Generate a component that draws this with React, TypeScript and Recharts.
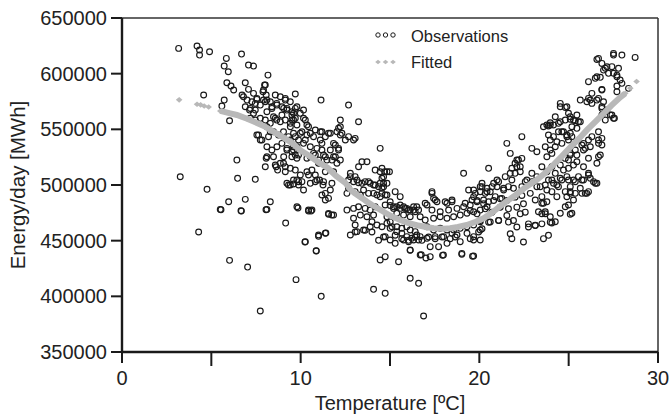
import { Legend, ReferenceLine, Scatter, ScatterChart, XAxis, YAxis } from 'recharts';

document.body.style.margin = '0';

const FONT = '"Liberation Sans", Arial, Helvetica, sans-serif';
const INK = '#1a1a1a';
const FIT = '#b8b8b8';

const xTicks = [0, 5, 10, 15, 20, 25, 30];
const yTicks = [350000, 400000, 450000, 500000, 550000, 600000, 650000];

// [temperature, energy]
const obsCold: [number, number][] = [
  [3.17, 622700], [3.26, 507400], [4.2, 624800], [4.34, 621200], [4.34, 616700], [4.9, 619700],
  [4.57, 580800], [4.76, 496100], [4.29, 457800], [5.54, 477800], [6.02, 432300], [6.68, 476600],
  [7.03, 426300], [7.74, 386800], [8.06, 477800], [5.84, 613700], [5.72, 606800], [5.95, 601700],
  [6.69, 617600], [7.08, 607700], [7.36, 606800], [5.87, 591800], [6.1, 588900], [6.25, 585300],
  [6.9, 591800], [7.08, 585900], [8.17, 598700], [8.02, 589800], [7.92, 585300], [5.72, 576300],
  [5.59, 570900], [6.02, 557700], [6.8, 579300], [7.0, 576300], [7.36, 582300], [7.55, 577800],
  [7.46, 573300], [6.9, 570300], [7.14, 567300], [7.36, 564400], [7.92, 576300], [8.07, 580800],
  [6.43, 522400], [6.47, 506000], [7.46, 505100], [5.97, 485000], [6.9, 487100], [8.3, 485000],
  [8.71, 513400], [8.02, 516400], [8.11, 525400], [7.55, 544900], [7.74, 540400], [8.11, 552300],
  [8.3, 547800], [8.48, 561300], [8.66, 558300], [8.95, 562800], [8.11, 576300], [8.39, 570300],
  [8.66, 573300], [8.86, 579300], [8.86, 519500], [8.58, 517900], [7.98, 589800], [7.89, 583800],
  [6.72, 580800], [7.27, 574800], [7.55, 576900], [7.18, 568800], [7.46, 567300], [7.74, 571800],
  [8.02, 574800], [8.3, 574800], [8.58, 580800], [8.11, 565800], [8.39, 568800], [8.67, 571800],
  [8.95, 570300], [7.18, 559900], [7.46, 558300], [7.74, 559900], [8.02, 558300], [8.3, 555400],
  [8.58, 559900], [8.86, 556800], [7.64, 544900], [7.83, 540400], [8.2, 543400], [8.48, 547800],
  [8.76, 544900], [8.11, 534400], [8.39, 531400], [8.67, 534400], [8.95, 537400], [8.07, 524000],
  [8.48, 525400], [8.63, 516400], [5.5, 478100], [6.66, 476900], [8.11, 478100],
];

const obsMild: [number, number][] = [
  [9.16, 465800], [9.74, 415000], [9.85, 479300], [10.24, 448800], [10.44, 476600], [10.58, 476600],
  [10.87, 440700], [11.0, 453900], [11.15, 400000], [11.41, 456900], [11.56, 473700], [11.74, 473000],
  [9.7, 581700], [11.14, 576300], [9.14, 576300], [9.05, 568800], [9.23, 567300], [9.51, 562800],
  [9.79, 570300], [9.98, 564400], [9.6, 558300], [9.42, 552300], [10.16, 559900], [10.35, 553900],
  [10.07, 547800], [9.88, 540400], [10.26, 540400], [10.54, 546400], [10.82, 549400], [11.1, 547800],
  [9.42, 540400], [9.6, 534400], [9.23, 531400], [9.05, 525400], [9.51, 525400], [9.14, 516400],
  [9.42, 515000], [9.7, 513400], [9.23, 501500], [9.42, 500000], [9.79, 504500], [10.07, 503000],
  [10.44, 509000], [10.63, 513400], [10.82, 503000], [11.06, 504500], [11.25, 500000], [11.38, 492500],
  [11.56, 488000], [11.66, 495500], [11.75, 522400], [11.66, 531400], [11.84, 537400], [11.19, 531400],
  [11.38, 525400], [11.0, 522400], [10.82, 526900], [10.54, 525400], [11.1, 540400], [11.38, 543400],
  [11.66, 546400], [9.14, 577800], [9.42, 574800], [9.7, 568800], [9.23, 568800], [9.51, 565800],
  [9.14, 558300], [9.42, 555400], [9.7, 559900], [9.79, 553900], [9.04, 547800], [9.32, 543400],
  [9.6, 546400], [9.23, 532900], [9.51, 529900], [9.79, 534400], [9.04, 519500], [9.14, 511900],
  [9.79, 524000], [9.7, 526900], [9.32, 500000], [9.6, 500900], [9.88, 503000], [9.79, 480500],
  [9.6, 564400], [9.51, 558300], [10.16, 567300], [10.26, 558300], [10.44, 552300], [9.98, 546400],
  [9.7, 543400], [10.35, 544900], [10.72, 543400], [11.19, 547800], [11.56, 546400], [12.12, 550900],
  [12.22, 558300], [12.22, 544900], [11.94, 535900], [12.12, 532900], [11.19, 537400], [10.91, 532900],
  [10.54, 534400], [10.16, 537400], [9.6, 531400], [9.88, 526900], [10.35, 524000], [10.72, 528400],
  [11.28, 526900], [11.84, 525400], [11.47, 522400], [11.0, 519500], [12.03, 519500], [11.84, 511900],
  [11.38, 511900], [10.82, 509000], [10.35, 511900], [9.98, 509000], [9.6, 504500], [9.88, 500000],
  [10.54, 501500], [10.91, 504500], [11.28, 503000], [11.75, 501500], [11.19, 491000], [11.38, 486500],
  [10.16, 495500], [10.44, 477500], [10.63, 477500], [11.56, 474500], [11.84, 473000], [11.0, 455100],
  [11.38, 456600], [10.26, 449100], [10.87, 441000], [12.68, 571800], [12.22, 552300], [12.03, 547800],
  [12.31, 546400], [12.68, 543400], [12.96, 540400], [12.5, 540400], [12.12, 531400], [11.94, 525400],
  [12.22, 522400], [12.78, 510500], [12.68, 504500], [12.96, 503000], [12.78, 507500], [12.59, 492500],
  [12.68, 497000], [12.59, 477500], [12.96, 479000], [12.96, 470100], [12.78, 455100],
];

const obsCool: [number, number][] = [
  [13.24, 556800], [13.05, 541900], [14.45, 532900], [13.43, 520900], [13.71, 520900], [13.24, 516400],
  [13.05, 507500], [13.24, 502100], [14.17, 513400], [14.45, 511900], [14.7, 511900], [14.97, 511900],
  [13.61, 503000], [13.89, 501500], [14.17, 500000], [14.45, 501500], [14.64, 498500], [14.55, 492500],
  [19.12, 510500], [19.4, 495500], [19.77, 492500], [17.35, 492500], [17.53, 486500], [18.09, 485000],
  [18.47, 486500], [16.97, 483600], [19.21, 483600], [19.59, 486500], [19.87, 485000], [13.15, 504500],
  [13.43, 501500], [13.8, 503000], [14.08, 500000], [14.36, 498500], [14.64, 501500], [14.55, 506000],
  [13.05, 494000], [13.52, 495500], [13.8, 492500], [13.34, 491000], [14.08, 492500], [14.45, 489500],
  [14.73, 491000], [13.24, 480500], [13.61, 479000], [13.89, 477500], [14.17, 480500], [14.08, 473000],
  [13.71, 471500], [13.34, 473000], [13.05, 464100], [13.15, 458100], [13.52, 459600], [13.89, 462500],
  [13.99, 467000], [14.27, 464100], [14.55, 462500], [14.83, 471500], [15.01, 467000], [15.2, 480500],
  [15.57, 479000], [15.85, 479000], [16.13, 477500], [16.41, 476000], [15.01, 461100], [15.38, 462500],
  [15.66, 461100], [15.94, 462500], [16.13, 459600], [16.41, 458100], [14.73, 453600], [15.01, 450600],
  [15.29, 447600], [15.76, 450600], [16.04, 449100], [16.32, 450600], [14.45, 432600], [14.73, 435600],
  [15.48, 431100], [14.08, 406300], [14.73, 402700], [16.13, 416200], [16.6, 411700], [16.88, 382300],
  [16.13, 441300], [16.75, 437400], [17.01, 434400], [17.94, 436800], [19.02, 437700], [19.62, 436000],
  [13.05, 457800], [13.61, 459300], [13.99, 457800], [14.36, 450300], [14.64, 453300], [15.29, 454900],
  [15.66, 451800], [16.04, 450300], [16.41, 453300], [16.79, 450300], [17.16, 453300], [17.53, 451800],
  [17.91, 453300], [18.37, 451800], [18.65, 453300], [19.49, 451800], [19.96, 457800], [15.01, 481600],
  [15.38, 480500], [15.76, 480500], [16.04, 477500], [16.32, 480500], [16.6, 477500], [14.83, 465600],
  [15.11, 462500], [15.38, 458100], [15.66, 456600], [15.94, 453600], [16.22, 452100], [16.5, 455100],
  [16.6, 450600], [17.35, 494000], [17.44, 488000], [17.63, 485000], [18.19, 483600], [18.47, 485000],
  [17.07, 482000], [17.35, 477500], [17.81, 476000], [18.28, 477500], [18.75, 479000], [19.12, 480500],
  [19.49, 482000], [19.68, 489500], [16.69, 471500], [16.97, 468500], [17.44, 470100], [17.81, 471500],
  [18.19, 470100], [18.56, 471500], [18.93, 473000], [19.31, 474600], [19.68, 476000], [17.07, 462500],
  [17.44, 459600], [17.81, 461100], [18.19, 459600], [18.56, 459600], [18.93, 461100], [19.31, 462500],
  [19.68, 464100], [16.69, 453600], [17.07, 452100], [17.53, 453600], [18.0, 453600], [18.47, 456600],
  [18.75, 455100], [19.31, 456600], [19.68, 453600], [17.25, 444600], [17.72, 444600], [18.19, 447600],
  [18.93, 449100], [19.68, 450600], [16.13, 441600], [16.69, 437100], [17.25, 435600], [17.99, 437100],
  [19.02, 438600], [19.68, 436200], [14.55, 515000], [14.83, 511900], [14.64, 507500], [14.83, 501500],
  [14.55, 497000], [14.27, 491000], [14.83, 491000], [15.01, 485000], [14.73, 482000], [15.2, 479000],
  [15.57, 482000], [15.94, 479000], [16.32, 477500], [15.38, 474600], [15.76, 473000], [16.13, 471500],
  [15.57, 489500], [15.29, 494000], [16.5, 480500], [19.68, 495500], [19.87, 486100], [19.49, 477100],
  [19.87, 474100],
];

const obsWarm: [number, number][] = [
  [20.52, 515000], [21.54, 537400], [21.73, 528400], [22.0, 519500], [22.19, 522400], [22.1, 516400],
  [21.73, 510500], [21.45, 507500], [21.82, 504500], [22.38, 543400], [22.94, 532900], [23.22, 529900],
  [23.59, 552300], [23.78, 553900], [23.97, 553900], [23.87, 544900], [23.69, 534400], [23.97, 531400],
  [23.87, 504500], [23.69, 500000], [22.38, 498500], [22.57, 503000], [22.94, 503000], [23.22, 498500],
  [22.85, 492500], [23.13, 486500], [23.5, 489500], [23.5, 483600], [23.78, 485000], [20.15, 498500],
  [20.43, 494000], [20.71, 498500], [21.08, 503000], [21.36, 497000], [21.63, 498500], [20.89, 489500],
  [21.26, 488000], [20.24, 486500], [20.52, 485000], [20.61, 466700], [21.08, 468200], [21.63, 466700],
  [21.73, 456200], [21.82, 451800], [22.1, 462300], [22.47, 448800], [22.75, 462300], [23.13, 463800],
  [23.5, 474200], [23.69, 474200], [23.59, 451800], [23.87, 454800], [20.15, 460700], [20.05, 498500],
  [20.33, 492500], [20.61, 494000], [20.99, 498500], [21.36, 495500], [21.91, 497000], [20.24, 483100],
  [20.8, 486100], [21.17, 487600], [21.54, 486100], [22.0, 489100], [22.38, 490600], [20.33, 478600],
  [20.71, 475600], [21.17, 480100], [21.63, 478600], [22.1, 480100], [22.47, 483100], [20.05, 468100],
  [20.52, 466600], [21.08, 468100], [21.54, 472600], [21.91, 468100], [22.29, 474100], [22.75, 465100],
  [23.13, 463600], [23.5, 465100], [23.97, 466600], [22.57, 475600], [22.1, 522400], [22.38, 523900],
  [22.29, 516400], [21.82, 515000], [22.0, 510500], [22.29, 511900], [22.66, 504500], [22.94, 510500],
  [23.22, 507500], [23.5, 516400], [23.78, 511900], [23.41, 498500], [23.78, 495500], [23.78, 525400],
  [23.97, 540400], [23.87, 553000], [23.97, 555900], [23.59, 483500], [23.31, 476000], [23.69, 476000],
  [23.97, 471500], [20.05, 477500], [20.43, 480500], [20.05, 467000], [20.05, 459600], [20.05, 450600],
  [20.8, 501500], [20.99, 504500], [20.15, 501500], [20.05, 494000], [20.43, 497000],
];

const obsHot: [number, number][] = [
  [24.06, 516400], [24.25, 510500], [24.34, 500000], [24.06, 494000], [24.34, 489500], [24.06, 504500],
  [24.15, 501500], [24.43, 498500], [24.25, 561300], [24.43, 555400], [24.53, 570300], [24.81, 569700],
  [24.99, 564400], [24.15, 543400], [24.34, 538800], [24.62, 537400], [24.25, 534400], [24.81, 558300],
  [25.09, 559000], [25.37, 557700], [25.55, 556800], [25.18, 552300], [25.46, 550900], [24.62, 547800],
  [24.9, 544900], [25.18, 543400], [24.99, 540400], [25.65, 576300], [26.02, 574800], [26.21, 576300],
  [26.3, 582300], [26.67, 577800], [26.86, 585900], [26.11, 592800], [26.49, 595800], [26.77, 596700],
  [26.58, 612800], [26.86, 609200], [27.05, 604800], [27.23, 600300], [27.42, 606300], [27.51, 616700],
  [27.98, 616700], [28.72, 614600], [27.79, 604800], [27.7, 598700], [27.88, 594300], [27.7, 588900],
  [28.35, 586800], [26.86, 570300], [27.14, 567300], [26.86, 562800], [27.42, 562800], [27.56, 559900],
  [27.05, 558300], [26.67, 547800], [26.86, 541900], [26.67, 537400], [26.77, 526900], [26.11, 540400],
  [25.83, 537400], [25.93, 532900], [26.21, 534400], [25.74, 535900], [25.37, 531400], [25.09, 526900],
  [24.81, 523900], [24.99, 522400], [25.46, 520900], [25.83, 516400], [26.11, 510500], [26.21, 506000],
  [25.74, 504500], [25.37, 503000], [24.99, 504500], [24.62, 504500], [24.81, 494000], [25.09, 494000],
  [25.37, 492500], [25.74, 492500], [26.11, 494000], [26.49, 501500], [25.09, 473700], [24.06, 465900],
  [24.06, 528400], [24.43, 547800], [24.71, 547800], [24.9, 543400], [25.09, 546400], [24.15, 553900],
  [24.53, 556800], [25.09, 561300], [25.27, 558300], [25.46, 562800], [25.65, 556800], [24.53, 573300],
  [24.9, 570300], [26.11, 577800], [26.3, 573300], [26.58, 576300], [26.95, 574800], [26.86, 568800],
  [27.05, 565800], [27.51, 559900], [27.33, 562800], [26.58, 597200], [26.95, 603200], [27.14, 606200],
  [27.51, 600300], [27.7, 597200], [27.98, 591300], [27.7, 583800], [26.67, 613700], [27.51, 618200],
  [26.86, 585300], [25.09, 528400], [25.46, 526900], [25.83, 531400], [26.11, 524000], [26.67, 525400],
  [26.58, 519500], [26.86, 535900], [26.67, 540400], [26.3, 543400], [24.53, 517900], [24.71, 513400],
  [24.99, 515000], [25.27, 517900], [24.9, 507500], [25.27, 504500], [25.55, 507500], [25.83, 504500],
  [26.11, 509000], [26.39, 503000], [26.58, 501500], [24.53, 506000], [25.09, 498500], [25.65, 497000],
  [26.02, 492500], [24.9, 489500], [25.27, 486500], [24.99, 482000], [25.18, 474600], [25.93, 492500],
  [24.25, 467000], [24.53, 474600], [24.81, 480500], [25.09, 492500],
];

// fitted curve, read along the grey band
const fittedLone: [number, number][] = [
  [3.2, 576500], [4.2, 572500], [4.4, 572000], [4.6, 571000], [4.85, 570000], [28.45, 587000], [28.8, 593000],
];

const fittedBand: [number, number][] = [
  [5.5, 566500], [6.0, 564500], [6.43, 562900], [7.0, 559500], [7.37, 557000], [8.0, 552500],
  [8.3, 549500], [9.0, 543000], [9.5, 538000], [10.0, 531000], [10.5, 526000], [11.0, 520500],
  [11.5, 515500], [12.0, 508000], [12.5, 502000], [12.78, 496000], [13.0, 493000], [13.5, 487500],
  [13.71, 485000], [14.0, 482000], [14.64, 476000], [15.0, 472500], [15.57, 468500], [16.0, 466000],
  [16.5, 464000], [17.0, 462300], [17.44, 461100], [18.0, 460800], [18.37, 461100], [18.8, 462300],
  [19.3, 464100], [19.8, 467000], [20.24, 470100], [20.7, 475000], [21.17, 481000], [21.5, 485000],
  [22.0, 490500], [22.5, 497000], [23.2, 504500], [23.7, 511000], [24.2, 519000], [24.6, 525500],
  [25.1, 534000], [25.6, 542000], [26.0, 549000], [26.5, 557000], [27.0, 565000], [27.4, 571500],
  [27.9, 579000], [28.17, 582300],
];

const toPoints = (rows: [number, number][]) => rows.map(([t, v]) => ({ t, v }));
const observations = toPoints([...obsCold, ...obsMild, ...obsCool, ...obsWarm, ...obsHot]);

function Ring({ cx, cy }: any) {
  return <circle cx={cx} cy={cy} r={2.9} fill="none" stroke={INK} strokeWidth={1.15} />;
}

function Diamond({ cx, cy }: any) {
  return <polygon points={`${cx - 3.3},${cy} ${cx},${cy - 2.8} ${cx + 3.3},${cy} ${cx},${cy + 2.8}`} fill={FIT} />;
}

function XTick({ x, y, payload }: any) {
  const major = payload.value % 10 === 0;
  return (
    <g>
      <line x1={x} x2={x} y1={y} y2={y + (major ? 11 : 14)} stroke={INK} strokeWidth={2} />
      {major && (
        <text x={x} y={y + 33} textAnchor="middle" fontSize={20} fill="#222" fontFamily={FONT}>
          {payload.value}
        </text>
      )}
    </g>
  );
}

function XLabel({ viewBox }: any) {
  return (
    <text x={viewBox.x + viewBox.width / 2} y={viewBox.y + 58} textAnchor="middle" fontSize={20} fill="#222" fontFamily={FONT}>
      Temperature [ºC]
    </text>
  );
}

function YLabel({ viewBox }: any) {
  const x = viewBox.x + 25;
  const y = viewBox.y + viewBox.height / 2;
  return (
    <text x={x} y={y} transform={`rotate(-90 ${x} ${y})`} textAnchor="middle" fontSize={20.5} fill="#222" fontFamily={FONT}>
      Energy/day [MWh]
    </text>
  );
}

function LegendBox() {
  const xs = [8, 15.5, 23];
  return (
    <svg width={200} height={60}>
      {xs.map((x) => (
        <circle key={`o${x}`} cx={x} cy={15} r={2.2} fill="none" stroke={INK} strokeWidth={1} />
      ))}
      {xs.map((x) => (
        <polygon key={`d${x}`} points={`${x - 2.8},42 ${x},39.7 ${x + 2.8},42 ${x},44.3`} fill={FIT} />
      ))}
      <text x={41} y={21.5} fontSize={16.5} fill="#222" fontFamily={FONT}>Observations</text>
      <text x={41} y={48.3} fontSize={16.5} fill="#222" fontFamily={FONT}>Fitted</text>
    </svg>
  );
}

export default function App() {
  return (
    <ScatterChart
      width={670}
      height={414}
      margin={{ top: 18, right: 12, bottom: 0, left: 0 }}
      style={{ fontFamily: FONT }}
    >
      <XAxis
        type="number"
        dataKey="t"
        domain={[0, 30]}
        ticks={xTicks}
        interval={0}
        height={62}
        tick={<XTick />}
        tickLine={false}
        tickSize={0}
        tickMargin={0}
        axisLine={{ stroke: INK, strokeWidth: 2.4 }}
        label={(p: any) => <XLabel {...p} />}
      />
      <YAxis
        type="number"
        dataKey="v"
        domain={[350000, 650000]}
        ticks={yTicks}
        interval={0}
        width={122}
        tickSize={11}
        tickMargin={4}
        tick={{ fill: '#222', fontSize: 20, fontFamily: FONT }}
        tickLine={{ stroke: INK, strokeWidth: 2 }}
        axisLine={{ stroke: INK, strokeWidth: 2.4 }}
        label={(p: any) => <YLabel {...p} />}
      />
      <ReferenceLine y={650000} stroke="#333" strokeWidth={1.5} />
      <ReferenceLine x={30} stroke="#333" strokeWidth={1.5} />
      <Scatter name="Observations" data={observations} shape={<Ring />} isAnimationActive={false} />
      <Scatter
        name="Fitted"
        data={toPoints(fittedBand)}
        shape={<Diamond />}
        line={{ stroke: FIT, strokeWidth: 6 }}
        lineType="joint"
        isAnimationActive={false}
      />
      <Scatter name="Fitted" data={toPoints(fittedLone)} shape={<Diamond />} isAnimationActive={false} />
      <Legend
        content={<LegendBox />}
        layout="vertical"
        verticalAlign="middle"
        align="center"
        wrapperStyle={{ left: 370, top: 20, width: 200, height: 60 }}
      />
    </ScatterChart>
  );
}
